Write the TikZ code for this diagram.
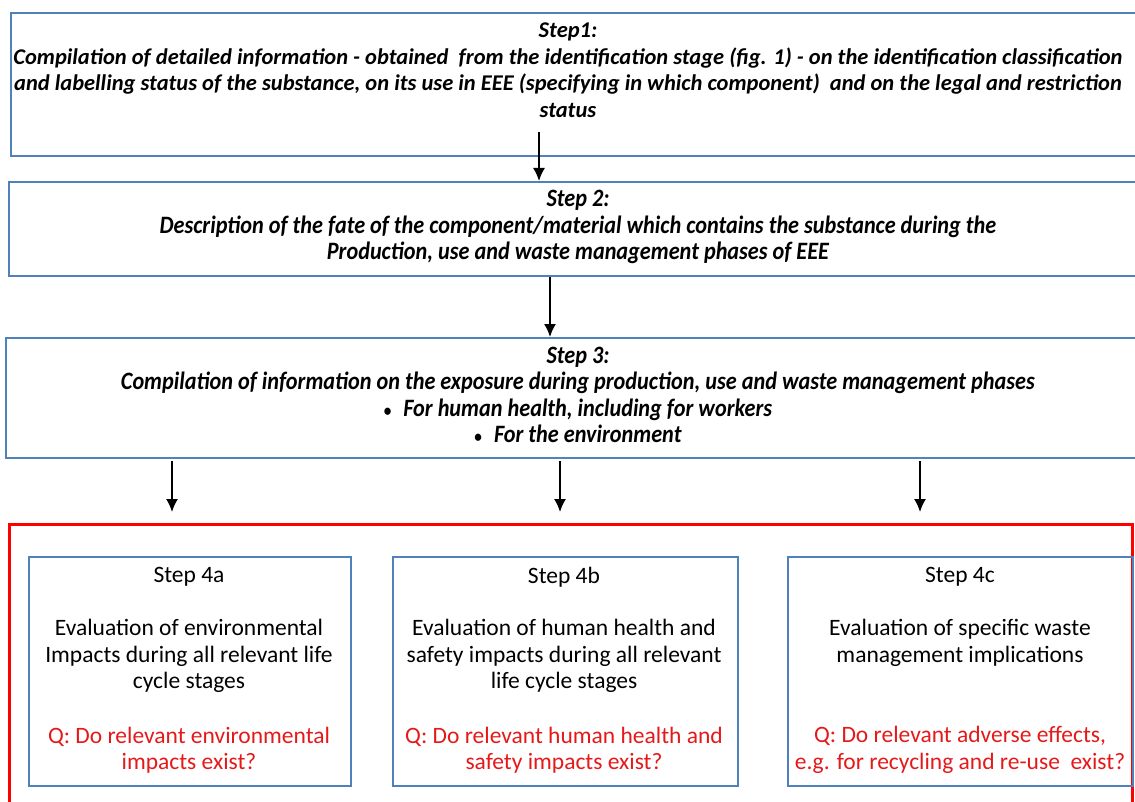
\documentclass[tikz,border=0pt]{standalone}
\usepackage{fontspec}
\setmainfont{Carlito}
\newfontfamily\condfont[FakeStretch=0.89]{Carlito}
\usetikzlibrary{arrows.meta,positioning}
\definecolor{BoxClr}{rgb}{0.31,0.51,0.74}
\definecolor{FrameClr}{rgb}{1,0,0}
\definecolor{AskClr}{rgb}{0.9,0.1,0.1}
\newcommand{\stepdot}{{\upshape\fontsize{17}{17}\selectfont\textbullet}\hspace{12pt}}

\begin{document}
\begin{tikzpicture}[x=1pt,y=-1pt,
  stepbox/.style={draw=BoxClr,line width=1.6pt,anchor=north west,inner sep=0pt},
  toptxt/.style={align=center,inner sep=0pt,font=\fontsize{22.5}{26.5}\selectfont\bfseries\itshape},
  midtxt/.style={align=center,inner sep=0pt,font=\condfont\fontsize{25}{26.5}\selectfont\bfseries\itshape},
  subtxt/.style={align=center,inner sep=0pt,font=\fontsize{23.5}{26.5}\selectfont},
  asktxt/.style={subtxt,text=AskClr},
  flow/.style={-{Latex[length=13pt,width=12pt]},line width=1.6pt}]
\useasboundingbox (0,0) rectangle (1135,802);
\clip (0,0) rectangle (1135,802);

% Upper chain of steps (right edges run off the page)
\node[stepbox,minimum width=1140pt,minimum height=143pt] (s1) at (10,12) {};
\node[stepbox,minimum width=1140pt,minimum height=94pt] (s2) at (8,181) {};
\node[stepbox,minimum width=1145pt,minimum height=120pt] (s3) at (5,337) {};

\node[toptxt] (t1) at (568,70) {Step1:\\
  Compilation of detailed information - obtained\ \ from the identification stage (fig. 1) - on the identification classification\\
  and labelling status of the substance, on its use in EEE (specifying in which component)\ \ and on the legal and restriction\\
  status};
\node[midtxt] (t2) at (578,227) {Step 2:\\
  Description of the fate of the component/material which contains the substance during the\\
  Production, use and waste management phases of EEE};
\node[midtxt] (t3) at (578,395) {Step 3:\\
  Compilation of information on the exposure during production, use and waste management phases\\
  \stepdot For human health, including for workers\\
  \stepdot For the environment};

% Evaluation frame
\draw[FrameClr,line width=3pt] (9,524) rectangle (1132,815);
\node[stepbox,minimum width=322pt,minimum height=229pt] (s4a) at (28,556) {};
\node[stepbox,minimum width=345pt,minimum height=229pt] (s4b) at (392,556) {};
\node[stepbox,minimum width=345pt,minimum height=229pt] (s4c) at (787,556) {};

\node[subtxt] (h4a) at (189,577) {Step 4a};
\node[subtxt] (h4b) at (564,577) {Step 4b};
\node[subtxt] (h4c) at (960,577) {Step 4c};
\node[subtxt] (e4a) at (189,656) {Evaluation of environmental\\ Impacts during all relevant life\\ cycle stages};
\node[subtxt] (e4b) at (564,656) {Evaluation of human health and\\ safety impacts during all relevant\\ life cycle stages};
\node[subtxt] (e4c) at (960,643) {Evaluation of specific waste\\ management implications};
\node[asktxt] (q4a) at (189,750) {Q: Do relevant environmental\\ impacts exist?};
\node[asktxt] (q4b) at (564,750) {Q: Do relevant human health and\\ safety impacts exist?};
\node[asktxt] (q4c) at (960,750) {Q: Do relevant adverse effects,\\ e.g. for recycling and re-use\ \ exist?};

% Connectors
\coordinate (a1) at (539,132);
\draw[flow] (a1) -- (a1 |- s2.north);
\draw[flow] (550,0 |- s2.south) -- (550,0 |- s3.north);
\foreach \n/\xx in {a/172,b/560,c/920} {
  \coordinate (o\n) at (\xx,461);
  \coordinate (i\n) at (\xx,512);
  \draw[flow] (o\n) -- (i\n);
}
\end{tikzpicture}
\end{document}
